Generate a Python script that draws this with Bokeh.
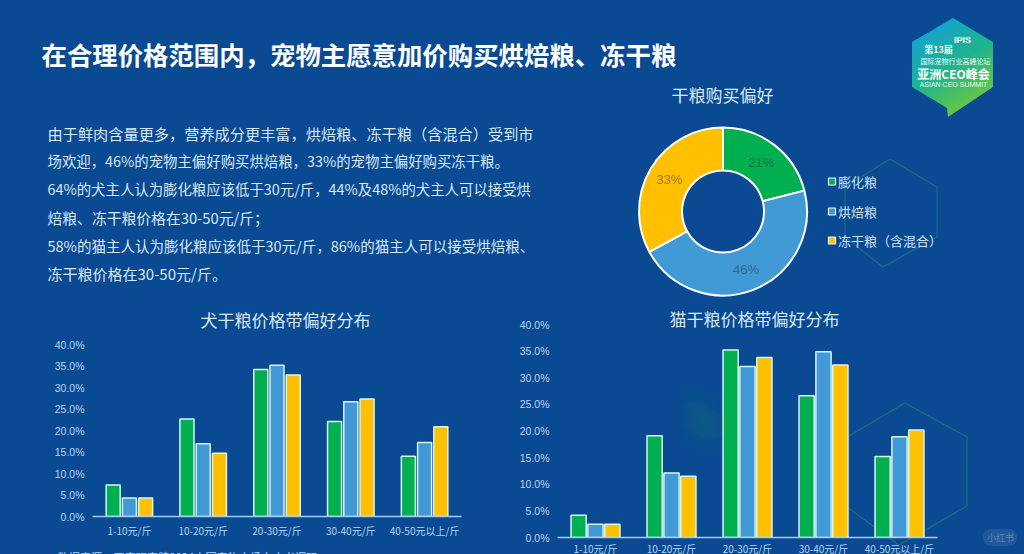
import math
from urllib.parse import quote

from bokeh.core.properties import value
from bokeh.embed import file_html
from bokeh.layouts import column, row
from bokeh.models import ColumnDataSource, FactorRange, GlobalInlineStyleSheet, PrintfTickFormatter, Range1d
from bokeh.plotting import figure
from bokeh.resources import INLINE
from bokeh.transform import dodge

CJK = "Noto Sans CJK SC"
TEXT = "#d8e8f6"
TICK = "#b5d6f2"

headline = "在合理价格范围内，宠物主愿意加价购买烘焙粮、冻干粮"
paragraph = [
    "由于鲜肉含量更多，营养成分更丰富，烘焙粮、冻干粮（含混合）受到市",
    "场欢迎，46%的宠物主偏好购买烘焙粮，33%的宠物主偏好购买冻干粮。",
    "64%的犬主人认为膨化粮应该低于30元/斤，44%及48%的犬主人可以接受烘",
    "焙粮、冻干粮价格在30-50元/斤；",
    "58%的猫主人认为膨化粮应该低于30元/斤，86%的猫主人可以接受烘焙粮、",
    "冻干粮价格在30-50元/斤。",
]
paragraph_y = [132.5, 160, 188, 216.5, 245, 272.5]
paragraph_size = [15.2, 14.4, 14.4, 14.8, 14.5, 15]

kinds = ["膨化粮", "烘焙粮", "冻干粮（含混合）"]
colors = ["#00b050", "#419ad6", "#ffc000"]
pie_share = [21, 46, 33]
pie_text = ["#1a6b4a", "#2f6a94", "#a5771a"]

prices = ["1-10元/斤", "10-20元/斤", "20-30元/斤", "30-40元/斤", "40-50元以上/斤"]
dog_puffed = [7.3, 22.7, 34.2, 22.1, 14.0]
dog_baked = [4.3, 16.9, 35.2, 26.7, 17.2]
dog_frozen = [4.3, 14.7, 32.9, 27.3, 20.9]
cat_puffed = [4.2, 19.1, 35.2, 26.6, 15.2]
cat_baked = [2.5, 12.1, 32.1, 34.9, 18.9]
cat_frozen = [2.5, 11.5, 33.8, 32.4, 20.2]

# decoration behind the figures: logo plate and faint hexagons
backdrop = """<svg xmlns='http://www.w3.org/2000/svg' width='1024' height='554'>
<defs><linearGradient id='g' x1='0.2' y1='0' x2='0.7' y2='1'>
<stop offset='0' stop-color='#12a0dc'/><stop offset='0.5' stop-color='#1fb38c'/><stop offset='1' stop-color='#74cb35'/>
</linearGradient><filter id='b'><feGaussianBlur stdDeviation='12'/></filter></defs>
<rect width='1024' height='554' fill='#0a4a92'/>
<polygon points='685,392 722,415 722,446 685,430' fill='#0f6a78' opacity='0.5' filter='url(#b)'/>
<polygon points='890,159 937,187 937,237 883,267 845,237 845,187' fill='none' stroke='#1b6a86' stroke-width='1.2'/>
<polygon points='905,403 967,437 967,506 899,545 847,507 847,437' fill='none' stroke='#1c6f80' stroke-width='1.2'/>
<polygon points='953,18 993,42 993,87 948,117 947,108 912,87 912,42' fill='url(#g)'/>
<rect x='983' y='529' width='34' height='17' rx='8' fill='#2a5f9e' opacity='0.7'/>
</svg>"""

page_css = (
    "html,body{margin:0;height:100%;overflow:hidden;"
    f"background:#0a4a92 url(\"data:image/svg+xml,{quote(backdrop)}\") no-repeat 0 0;}}"
)


def blank_panel(x0, x1, y0, y1):
    p = figure(width=x1 - x0, height=y1 - y0, x_range=(x0, x1), y_range=(y1, y0),
               x_axis_type=None, y_axis_type=None, toolbar_location=None,
               output_backend="svg", min_border=0,
               background_fill_color=None, border_fill_color=None, outline_line_color=None)
    p.grid.visible = False
    return p


def put_text(p, x, y, text, size, color=TEXT, align="left", style="normal", font=CJK):
    p.text(x=x, y=y, text=text, text_font=value(font), text_font_size=f"{size}px",
           text_color=color, text_align=align, text_baseline="middle", text_font_style=style)


def price_chart(puffed, baked, frozen, size, box, bar_w, gap, standoff):
    left, right, top, bottom = box
    p = figure(width=size[0], height=size[1],
               x_range=FactorRange(factors=prices), y_range=Range1d(0, 40),
               toolbar_location=None, output_backend="svg",
               min_border_left=left, min_border_right=right,
               min_border_top=top, min_border_bottom=bottom,
               background_fill_color=None, border_fill_color=None, outline_line_color=None)
    p.x_range.range_padding = 0
    p.grid.visible = False
    source = ColumnDataSource(dict(price=prices, puffed=puffed, baked=baked, frozen=frozen))
    for i, (col, color) in enumerate(zip(["puffed", "baked", "frozen"], colors)):
        p.vbar(x=dodge("price", (i - 1) * gap, range=p.x_range), top=col, width=bar_w, source=source,
               fill_color=color, line_color="#d6f5f0", line_width=1.5)
    p.yaxis.ticker = [0, 5, 10, 15, 20, 25, 30, 35, 40]
    p.yaxis.formatter = PrintfTickFormatter(format="%.1f%%")
    p.yaxis.axis_line_color = None
    p.yaxis.major_tick_line_color = None
    p.yaxis.minor_tick_line_color = None
    p.yaxis.major_tick_out = 0
    p.yaxis.major_tick_in = 0
    p.yaxis.major_label_standoff = 8
    p.yaxis.major_label_text_font = "Liberation Sans"
    p.yaxis.major_label_text_font_size = "10.5px"
    p.yaxis.major_label_text_color = TICK
    p.xaxis.axis_line_color = "#a9c9ee"
    p.xaxis.axis_line_width = 1.5
    p.xaxis.major_tick_line_color = None
    p.xaxis.minor_tick_line_color = None
    p.xaxis.major_tick_out = 0
    p.xaxis.major_tick_in = 0
    p.xaxis.major_label_standoff = standoff
    p.xaxis.major_label_text_font = CJK
    p.xaxis.major_label_text_font_size = "10px"
    p.xaxis.major_label_text_color = TICK
    return p


# headline, donut title and logo text
head = blank_panel(0, 1024, 0, 110)
put_text(head, [41], [53], [headline], 25.4, color="#ffffff", style="bold")
put_text(head, [722], [94], ["干粮购买偏好"], 17, align="center")
put_text(head, [962], [39], ["IPIS"], 9, color="#ffffff", align="center", style="bold", font="Liberation Sans")
put_text(head, [938], [49], ["第13届"], 9, color="#ffffff", align="center", style="bold")
put_text(head, [955], [60], ["国际宠物行业高峰论坛"], 7, color="#e8fbff", align="center")
put_text(head, [953], [73], ["亚洲CEO峰会"], 12, color="#ffffff", align="center", style="bold")
put_text(head, [953], [84], ["ASIAN CEO SUMMIT"], 7, color="#e8fbff", align="center", font="Liberation Sans")

# body text
body = blank_panel(0, 620, 110, 300)
for line, y, size in zip(paragraph, paragraph_y, paragraph_size):
    put_text(body, [47], [y], [line], size)

# donut and legend
donut = blank_panel(620, 1024, 110, 300)
cx, cy, r_out, r_in = 722.5, 211, 84, 41
ends = [sum(pie_share[:i + 1]) / sum(pie_share) for i in range(3)]
starts = [0] + ends[:-1]
donut.annular_wedge(x=[cx] * 3, y=[cy] * 3, inner_radius=r_in, outer_radius=r_out,
                    inner_radius_units="screen", outer_radius_units="screen",
                    start_angle=[math.pi / 2 - s * 2 * math.pi for s in starts],
                    end_angle=[math.pi / 2 - e * 2 * math.pi for e in ends],
                    direction="clock", fill_color=colors, line_color="#ffffff", line_width=2)
mids = [(s + e) / 2 * 2 * math.pi for s, e in zip(starts, ends)]
r_mid = (r_out + r_in) / 2
for m, share, color in zip(mids, pie_share, pie_text):
    put_text(donut, [cx + r_mid * math.sin(m)], [cy - r_mid * math.cos(m)], [f"{share}%"], 13,
             color=color, align="center", font="Liberation Sans")

legend_y = [181, 211, 240]
donut.scatter(x=[831.5] * 3, y=legend_y, marker="square", size=7, fill_color=colors,
              line_color="#eaf6fb", line_width=1.2)
put_text(donut, [837.5] * 3, legend_y, kinds, 13, color="#cfe3f4")

# dog chart with its title in a strip of its own
dog_title = blank_panel(0, 512, 300, 335)
put_text(dog_title, [285], [319], ["犬干粮价格带偏好分布"], 17, align="center")
dog = price_chart(dog_puffed, dog_baked, dog_frozen, (512, 205), (92, 51, 9, 22), 0.19, 0.22, 6)

# cat chart: its title sits level with the top tick, so it goes in as a title pulled over the frame
cat = price_chart(cat_puffed, cat_baked, cat_frozen, (465, 258), (45, 40, 24, 21), 0.2, 0.222, 3)
cat.title.text = "猫干粮价格带偏好分布"
cat.title.align = "left"
cat.title.offset = 112
cat.title.standoff = -12
cat.title.text_font = CJK
cat.title.text_font_size = "17px"
cat.title.text_font_style = "normal"
cat.title.text_color = TEXT

# source line sits under the dog chart and runs off the bottom of the slide, as in the original
note = blank_panel(0, 512, 540, 554)
put_text(note, [57], [556], ["数据来源：亚宠研究院2024中国宠物市场白皮书调研"], 11.2, color=TICK)

mark = blank_panel(977, 1024, 300, 554)
put_text(mark, [1000], [537], ["小红书"], 9, color="#5a86b8", align="center")

page = column(head, row(body, donut),
              row(column(column(dog_title), column(dog), column(note)), column(cat), column(mark)),
              stylesheets=[GlobalInlineStyleSheet(css=page_css)])
open("out.html", "w").write(file_html(page, INLINE))
